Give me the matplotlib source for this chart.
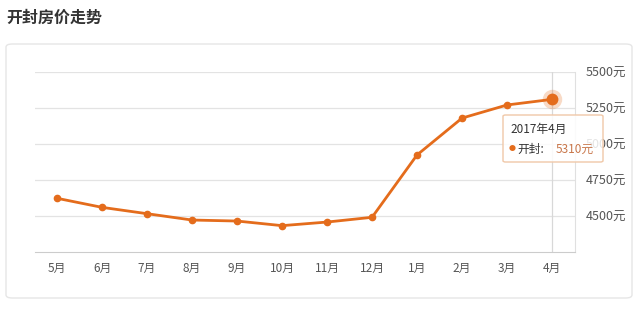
import matplotlib
matplotlib.use('Agg')
import matplotlib.pyplot as plt
from matplotlib.patches import FancyBboxPatch

plt.rcParams['font.family'] = ['Noto Sans CJK SC', 'DejaVu Sans']

# data
months = ['5月', '6月', '7月', '8月', '9月', '10月', '11月', '12月', '1月', '2月', '3月', '4月']
prices = [4623, 4560, 4516, 4472, 4465, 4433, 4458, 4491, 4924, 5180, 5271, 5310]
yticks = [4500, 4750, 5000, 5250, 5500]
title = '开封房价走势'
tip_date = '2017年4月'
tip_city = '开封'

orange = '#e46c1c'
W, H = 640, 309

fig = plt.figure(figsize=(6.4, 3.09), dpi=100)
fig.patch.set_facecolor('white')

# outer rounded frame
frame = FancyBboxPatch((6 / W, 1 - 298 / H), 626 / W, 254 / H,
                       boxstyle='round,pad=0,rounding_size=0.01',
                       transform=fig.transFigure, facecolor='white',
                       edgecolor='#e6e6e6', linewidth=1.0, zorder=-5)
fig.patches.append(frame)

fig.text(6 / W, 1 - 18 / H, title, fontsize=11.5, fontweight='bold',
         color='#333333', va='center', ha='left')

ax = fig.add_axes([35 / W, 1 - 252 / H, 540 / W, 180 / H])
ax.set_zorder(1)
ax.patch.set_visible(False)
x = list(range(len(months)))

ax.set_xlim(-0.49, 11.51)
ax.set_ylim(4250, 5500)
for y in yticks:
    ax.axhline(y, color='#e3e3e3', linewidth=0.9, zorder=0)
ax.axvline(x[-1], color='#d8d8d8', linewidth=0.9, zorder=0)

ax.plot(x, prices, color=orange, linewidth=2.0, marker='o', markersize=4.5,
        zorder=3, solid_capstyle='round', clip_on=False)
ax.plot(x[-1], prices[-1], 'o', color=orange, markersize=14, alpha=0.25, zorder=4,
        markeredgewidth=0, clip_on=False)
ax.plot(x[-1], prices[-1], 'o', color=orange, markersize=8.5, zorder=5,
        markeredgewidth=0, clip_on=False)

for s in ['left', 'top']:
    ax.spines[s].set_visible(False)
ax.spines['bottom'].set_color('#cccccc')
ax.spines['right'].set_color('#e0e0e0')

ax.yaxis.tick_right()
ax.set_yticks(yticks)
ax.set_yticklabels([f'{v}元' for v in yticks], fontsize=9, color='#555555')
ax.tick_params(axis='y', length=0, pad=8)
ax.set_xticks(x)
ax.set_xticklabels(months, fontsize=8.5, color='#555555')
ax.tick_params(axis='x', length=0, pad=7)

# tooltip
tip = FancyBboxPatch((503 / W, 1 - 162 / H), 100 / W, 47 / H,
                     boxstyle='round,pad=0,rounding_size=0.004',
                     transform=fig.transFigure, facecolor=(1, 1, 1, 0.85),
                     edgecolor='#f0c8a8', linewidth=1.0, zorder=10)
fig.patches.append(tip)
fig.text(510 / W, 1 - 129 / H, tip_date, fontsize=8.5, color='#333333',
         va='center', ha='left', zorder=11)
fig.text(509 / W, 1 - 149 / H, '●', fontsize=5, color=orange,
         va='center', ha='left', zorder=11)
fig.text(517 / W, 1 - 149 / H, tip_city + ':', fontsize=8.5, color='#333333',
         va='center', ha='left', zorder=11)
fig.text(556 / W, 1 - 149 / H, f'{prices[-1]}元', fontsize=8.5, color='#c8764a',
         va='center', ha='left', zorder=11)

plt.savefig('out.png', dpi=100, facecolor='white')
